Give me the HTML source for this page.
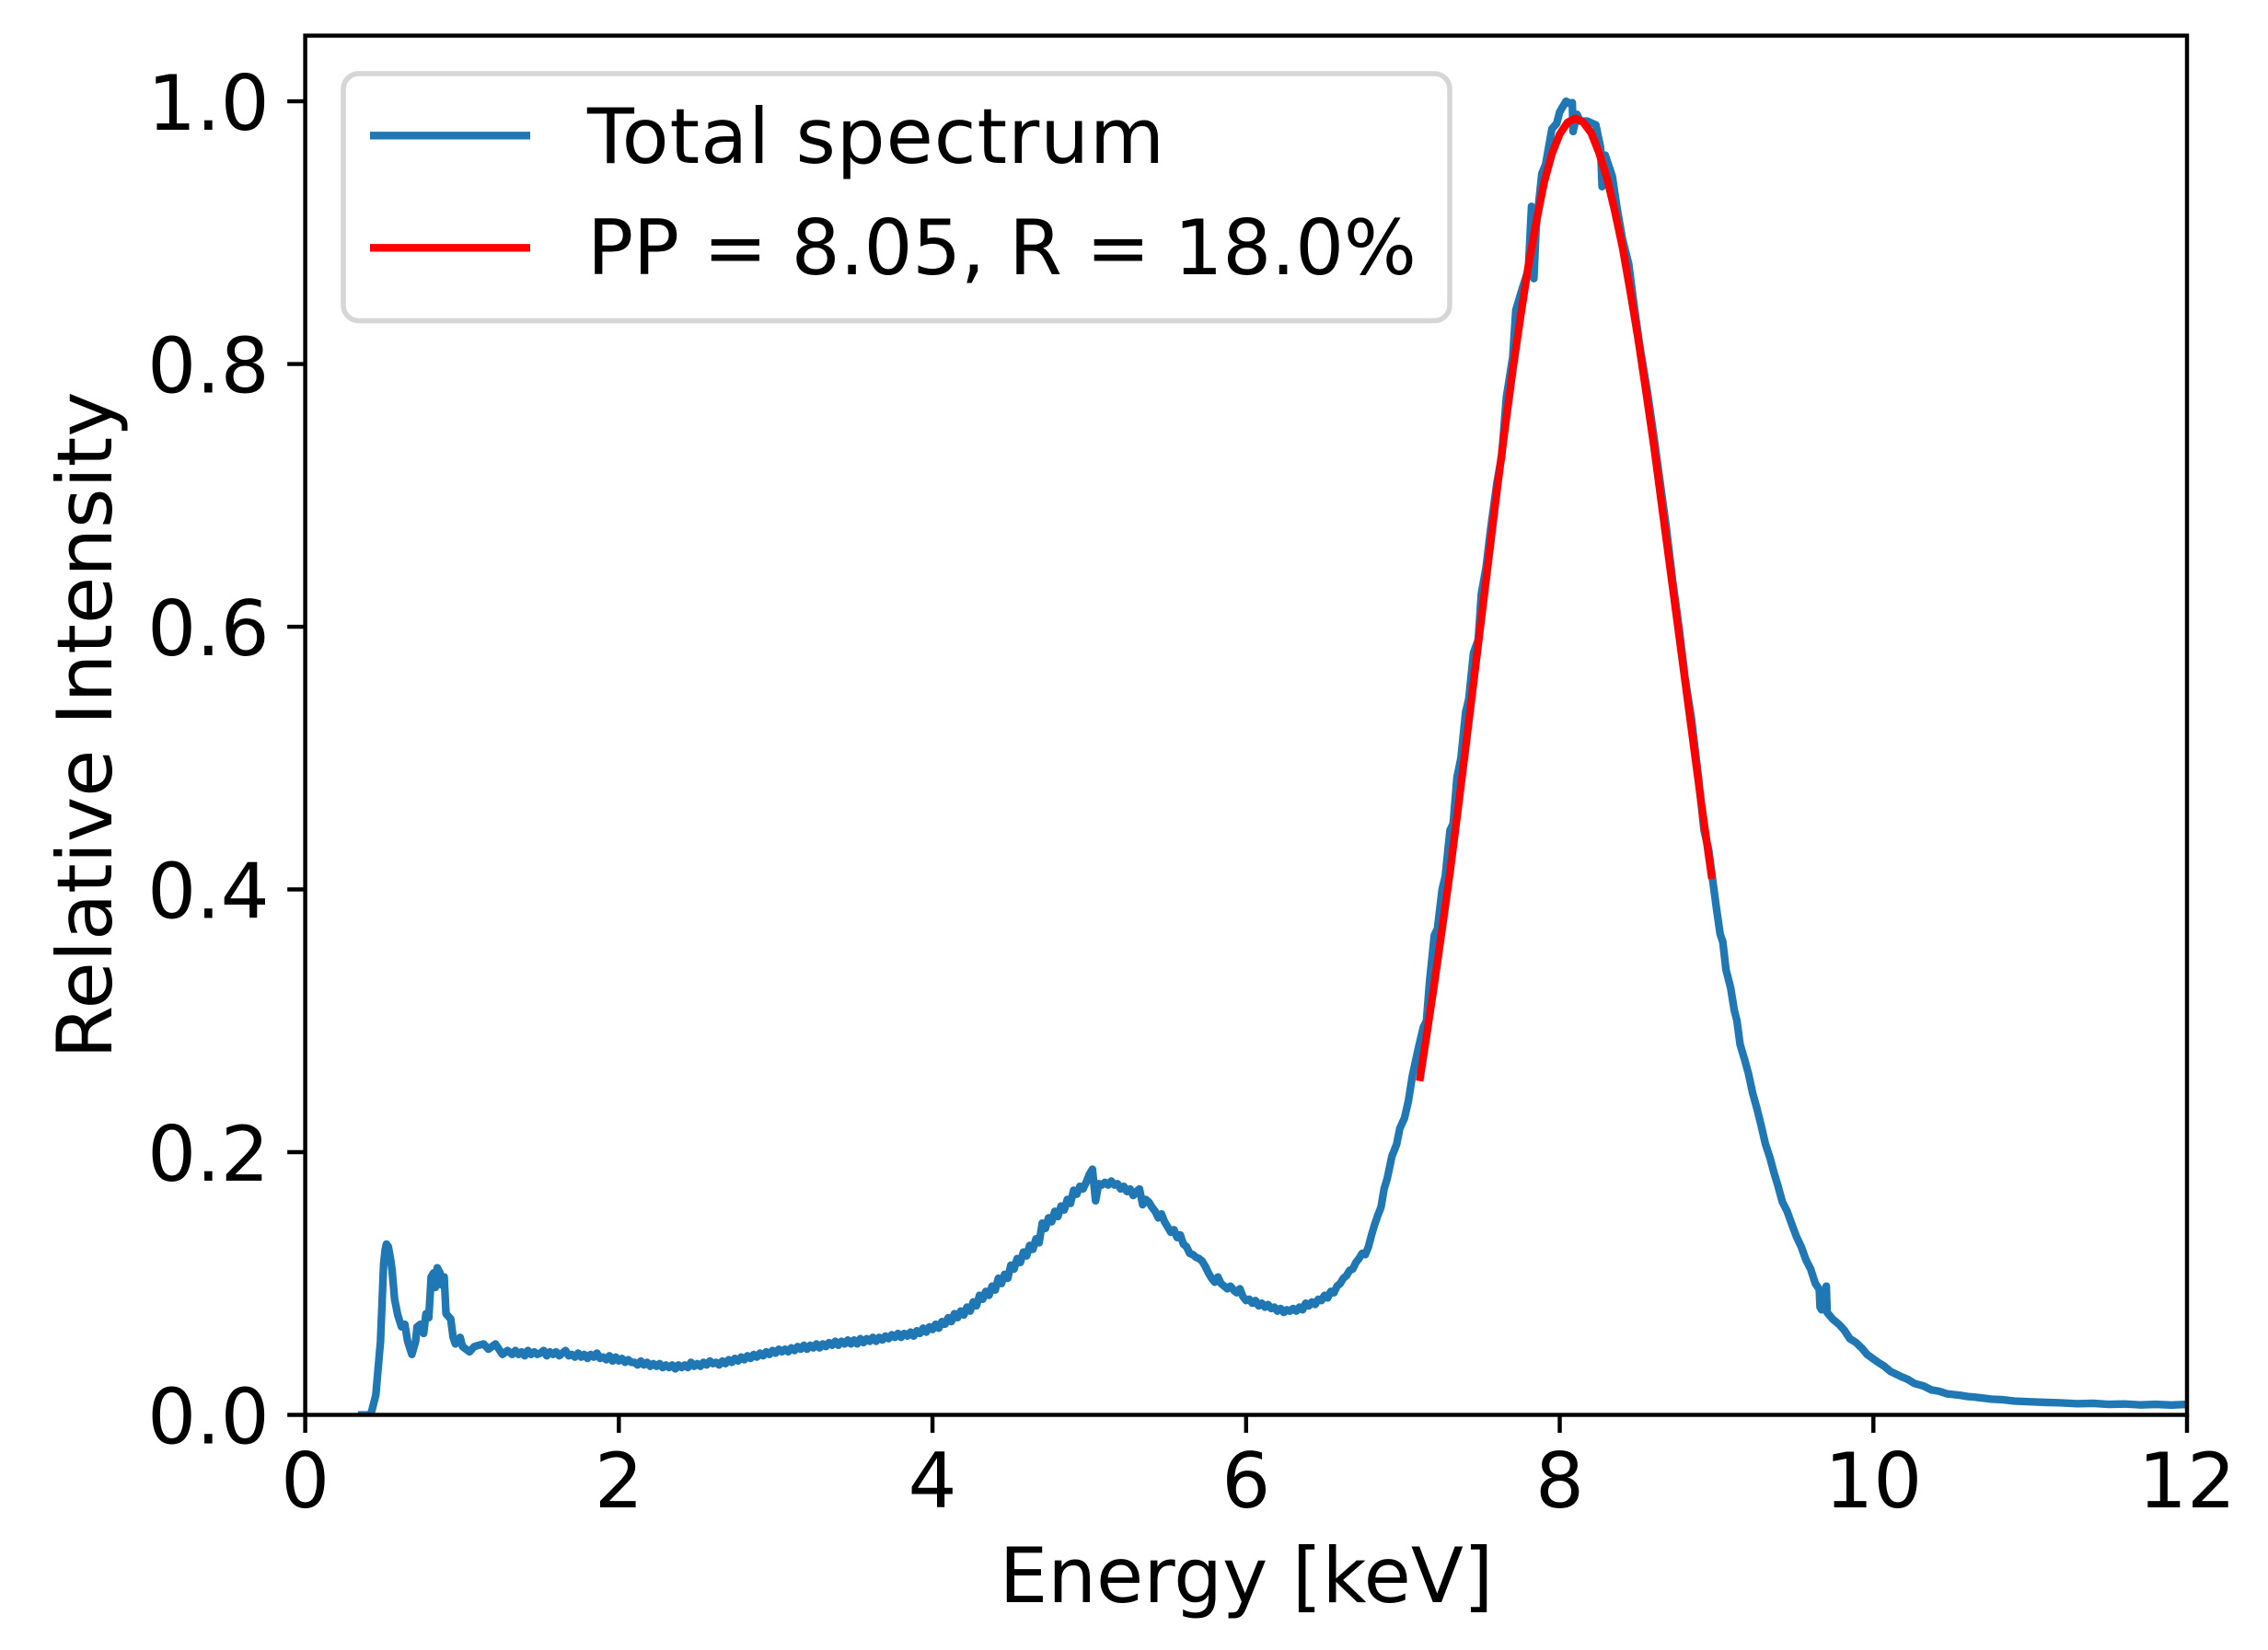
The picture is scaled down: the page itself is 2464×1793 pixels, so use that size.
<!DOCTYPE html>
<html lang="en">
<head>
<meta charset="utf-8">
<title>Total spectrum – Relative Intensity vs Energy</title>
<style>
html,body{margin:0;padding:0;background:#fff;}
svg{display:block;}
text{font-family:"DejaVu Sans","Liberation Sans",sans-serif;font-size:83.33px;fill:#000;}
</style>
</head>
<body>
<svg id="chart" xmlns="http://www.w3.org/2000/svg" width="2464" height="1793" viewBox="0 0 2464 1793">
  <rect x="0" y="0" width="2464" height="1793" fill="#ffffff"/>
  <defs><clipPath id="plot-clip"><rect x="331.6" y="38.7" width="2044.4" height="1498.8"/></clipPath></defs>
  <g id="series-layer" clip-path="url(#plot-clip)"></g>
  <g id="axis-layer"></g>
  <g>
    <rect x="373" y="80" width="1202" height="268.5" rx="16.7" ry="16.7" fill="#ffffff" fill-opacity="0.8" stroke="#d6d6d6" stroke-width="5.55"/>
    <line x1="402" y1="147.3" x2="576" y2="147.3" stroke="#1f77b4" stroke-width="8.33"/>
    <text x="638" y="177" style="letter-spacing:0.9px">Total spectrum</text>
    <line x1="402" y1="269.3" x2="576" y2="269.3" stroke="#ff0000" stroke-width="8.33"/>
    <text x="638" y="298" style="letter-spacing:-0.33px">PP = 8.05, R = 18.0%</text>
  </g>
  <text x="1354" y="1741" text-anchor="middle">Energy [keV]</text>
  <text x="121" y="788" text-anchor="middle" transform="rotate(-90 121 788)">Relative Intensity</text>
</svg>
<script>
const xTickValues = [0, 2, 4, 6, 8, 10, 12];
const xTickLabels = ["0", "2", "4", "6", "8", "10", "12"];
const yTickValues = [0, 0.2, 0.4, 0.6, 0.8, 1.0];
const yTickLabels = ["0.0", "0.2", "0.4", "0.6", "0.8", "1.0"];
const xDomain = [0, 12];
const yDomain = [0, 1.05];

const spectrumEnergy = [
  0.36,0.40,0.42,0.45,0.48,0.50,0.51,0.518,0.53,0.545,0.554,0.57,0.59,
  0.614,0.635,0.653,0.68,0.704,0.713,0.734,0.755,0.77,0.788,
  0.803,0.818,0.83,0.842,0.86,0.869,0.886,0.898,0.928,0.943,
  0.958,0.988,1.003,1.048,1.078,1.138,1.168,1.213,1.258,1.29,
  1.30,1.32,1.34,1.36,1.38,1.40,1.42,1.44,1.46,1.48,
  1.50,1.52,1.54,1.56,1.58,1.60,1.62,1.64,1.66,1.68,
  1.70,1.72,1.74,1.76,1.78,1.80,1.82,1.84,1.86,1.88,
  1.90,1.92,1.94,1.96,1.98,2.00,2.02,2.04,2.06,2.08,
  2.10,2.12,2.14,2.16,2.18,2.20,2.22,2.24,2.26,2.28,
  2.30,2.32,2.34,2.36,2.38,2.40,2.42,2.44,2.46,2.48,
  2.50,2.52,2.54,2.56,2.58,2.60,2.62,2.64,2.66,2.68,
  2.70,2.72,2.74,2.76,2.78,2.80,2.82,2.84,2.86,2.88,
  2.90,2.92,2.94,2.96,2.98,3.00,3.02,3.04,3.06,3.08,
  3.10,3.12,3.14,3.16,3.18,3.20,3.22,3.24,3.26,3.28,
  3.30,3.32,3.34,3.36,3.38,3.40,3.42,3.44,3.46,3.48,
  3.50,3.52,3.54,3.56,3.58,3.60,3.62,3.64,3.66,3.68,
  3.70,3.72,3.74,3.76,3.78,3.80,3.82,3.84,3.86,3.88,
  3.90,3.92,3.94,3.96,3.98,4.00,4.02,4.04,4.06,4.08,
  4.10,4.12,4.14,4.16,4.18,4.20,4.22,4.24,4.26,4.28,
  4.30,4.32,4.34,4.36,4.38,4.40,4.42,4.44,4.46,4.48,
  4.50,4.52,4.54,4.56,4.58,4.60,4.62,4.64,4.66,4.68,
  4.70,4.72,4.74,4.76,4.78,4.80,4.82,4.84,4.86,4.88,
  4.90,4.92,4.94,4.96,4.98,5.00,5.02,5.04,5.06,5.08,
  5.10,5.12,5.14,5.16,5.18,5.20,5.22,5.24,5.26,5.28,
  5.30,5.32,5.34,5.36,5.38,5.40,5.42,5.44,5.46,5.48,
  5.50,5.52,5.54,5.56,5.58,5.60,5.62,5.64,5.66,5.68,
  5.70,5.72,5.74,5.76,5.78,5.80,5.82,5.84,5.86,5.88,
  5.90,5.92,5.94,5.96,5.98,6.00,6.02,6.04,6.06,6.08,
  6.10,6.12,6.14,6.16,6.18,6.20,6.22,6.24,6.26,6.28,
  6.30,6.32,6.34,6.36,6.38,6.40,6.42,6.44,6.46,6.48,
  6.50,6.52,6.54,6.56,6.58,6.60,6.62,6.64,6.66,6.68,
  6.70,6.72,6.74,6.76,6.78,6.80,6.82,6.84,6.86,6.88,
  6.90,
  6.93,6.96,6.98,7.01,7.035,7.06,7.08,7.10,7.13,7.15,
  7.17,7.20,7.22,7.25,7.27,7.30,7.32,7.345,7.37,7.40,
  7.42,7.45,7.48,7.50,7.53,7.56,7.60,7.63,7.66,7.70,
  7.72,7.76,7.80,7.82,7.835,7.85,7.886,7.91,7.95,7.98,
  8.00,8.04,8.07,8.08,8.085,8.11,8.13,8.175,8.23,8.26,
  8.27,8.29,8.335,8.365,8.40,8.44,8.47,8.51,8.56,8.60,
  8.64,8.68,8.72,8.76,8.80,8.84,8.88,8.92,8.95,8.972,
  9.0,9.023,9.04,9.06,9.09,9.113,9.13,9.15,9.18,9.204,
  9.23,9.258,9.285,9.312,9.34,9.367,9.39,9.42,9.45,9.48,
  9.51,9.54,9.57,9.60,9.63,9.655,9.66,9.67,9.70,9.705,
  9.74,9.78,9.815,9.85,9.89,9.925,9.96,10.03,10.07,10.11,
  10.18,10.22,10.26,10.32,10.37,10.42,10.47,10.55,10.6,10.65,
  10.75,10.83,10.9,11.0,11.1,11.19,11.3,11.4,11.5,11.6,
  11.7,11.8,11.9,12.0
];
const spectrumIntensity = [
  0,0,0.001,0.015,0.056,0.115,0.126,0.130,0.128,0.118,0.110,0.088,0.076,
  0.067,0.069,0.056,0.046,0.056,0.067,0.069,0.062,0.077,0.074,
  0.105,0.108,0.097,0.112,0.108,0.099,0.105,0.077,0.073,0.059,
  0.054,0.059,0.052,0.048,0.052,0.054,0.050,0.054,0.046,0.049,
  0.048,0.046,0.049,0.046,0.048,0.045,0.049,0.046,0.048,0.046,
  0.047,0.049,0.045,0.048,0.046,0.048,0.045,0.047,0.049,0.045,
  0.046,0.044,0.047,0.044,0.046,0.043,0.046,0.044,0.047,0.043,
  0.044,0.042,0.045,0.041,0.044,0.041,0.043,0.040,0.042,0.040,
  0.040,0.038,0.041,0.038,0.040,0.037,0.039,0.037,0.039,0.036,
  0.038,0.036,0.038,0.035,0.038,0.036,0.038,0.036,0.040,0.037,
  0.039,0.037,0.040,0.038,0.041,0.039,0.040,0.038,0.041,0.039,
  0.042,0.040,0.043,0.041,0.044,0.042,0.045,0.043,0.046,0.044,
  0.047,0.045,0.048,0.046,0.049,0.047,0.050,0.048,0.050,0.048,
  0.051,0.049,0.052,0.050,0.053,0.050,0.053,0.051,0.054,0.051,
  0.054,0.052,0.055,0.053,0.056,0.053,0.056,0.054,0.057,0.054,
  0.057,0.054,0.058,0.055,0.058,0.056,0.059,0.056,0.059,0.057,
  0.060,0.058,0.061,0.059,0.062,0.059,0.062,0.060,0.063,0.060,
  0.064,0.062,0.066,0.063,0.067,0.065,0.069,0.066,0.071,0.069,
  0.074,0.071,0.077,0.074,0.079,0.076,0.082,0.079,0.086,0.083,
  0.091,0.088,0.094,0.091,0.098,0.095,0.104,0.100,0.107,0.104,
  0.114,0.111,0.119,0.116,0.124,0.121,0.129,0.126,0.134,0.131,
  0.146,0.142,0.150,0.147,0.155,0.151,0.159,0.156,0.164,0.161,
  0.171,0.168,0.174,0.172,0.177,0.183,0.187,0.163,0.176,0.175,
  0.177,0.175,0.178,0.175,0.176,0.172,0.174,0.170,0.172,0.167,
  0.170,0.172,0.160,0.164,0.162,0.158,0.155,0.150,0.153,0.147,
  0.143,0.139,0.141,0.135,0.137,0.130,0.128,0.123,0.122,0.120,
  0.119,0.117,0.113,0.108,0.104,0.101,0.105,0.100,0.098,0.096,
  0.098,0.095,0.093,0.096,0.090,0.087,0.088,0.085,0.087,0.083,
  0.085,0.082,0.084,0.081,0.082,0.079,0.081,0.078,0.080,0.079,
  0.081,0.079,0.082,0.080,0.085,0.083,0.086,0.084,0.088,0.087,
  0.091,0.089,0.094,0.093,0.098,0.100,0.104,0.106,0.110,0.111,
  0.116,0.119,0.123,0.122,0.128,0.137,0.145,0.152,0.158,0.172,
  0.180,
  0.197,0.206,0.218,0.226,0.239,0.258,0.269,0.280,0.295,0.300,
  0.33,0.365,0.37,0.40,0.41,0.445,0.45,0.4855,0.50,0.535,
  0.545,0.58,0.59,0.625,0.645,0.675,0.71,0.73,0.775,0.805,
  0.841,0.857,0.872,0.92,0.865,0.905,0.945,0.952,0.979,0.983,
  0.992,1.0,0.998,0.999,0.977,0.990,0.985,0.985,0.982,0.965,
  0.935,0.959,0.943,0.919,0.895,0.876,0.848,0.814,0.778,0.745,
  0.71,0.675,0.635,0.60,0.56,0.53,0.49,0.445,0.43,0.41,
  0.385,0.366,0.36,0.339,0.325,0.308,0.30,0.282,0.27,0.2595,
  0.245,0.233,0.22,0.206,0.196,0.184,0.175,0.162,0.155,0.145,
  0.1355,0.128,0.118,0.111,0.10,0.0956,0.082,0.08,0.098,0.078,
  0.073,0.069,0.0644,0.058,0.055,0.051,0.046,0.040,0.037,0.033,
  0.029,0.027,0.024,0.022,0.019,0.018,0.016,0.015,0.014,0.0135,
  0.012,0.0115,0.0105,0.0100,0.0095,0.0092,0.0085,0.0088,0.0080,0.0083,
  0.0076,0.0080,0.0075,0.0080
];

const fitEnergy = [7.11,7.15,7.2,7.25,7.3,7.35,7.4,7.45,7.5,7.55,7.6,7.65,7.7,7.75,7.8,7.85,7.9,7.95,8.0,8.05,8.1,8.15,8.2,8.25,8.3,8.35,8.4,8.45,8.5,8.55,8.6,8.65,8.7,8.75,8.8,8.85,8.9,8.967];
const fitIntensity = [0.257,0.288,0.328,0.370,0.413,0.460,0.508,0.557,0.606,0.655,0.704,0.750,0.795,0.836,0.875,0.908,0.938,0.960,0.975,0.984,0.987,0.984,0.976,0.961,0.942,0.917,0.889,0.855,0.819,0.779,0.738,0.693,0.648,0.603,0.558,0.513,0.468,0.411];

const SVG_NS = "http://www.w3.org/2000/svg";
const plotLeft = 331.6, plotRight = 2376, plotTop = 38.7, plotBottom = 1537.5;
const tickLength = 19.44, axisWidth = 4.44;

function xScale(v) {
  return plotLeft + (v - xDomain[0]) / (xDomain[1] - xDomain[0]) * (plotRight - plotLeft);
}
function yScale(v) {
  return plotBottom - (v - yDomain[0]) / (yDomain[1] - yDomain[0]) * (plotBottom - plotTop);
}
function linePoints(xs, ys) {
  const n = Math.min(xs.length, ys.length);
  const pts = [];
  for (let i = 0; i < n; i++) {
    pts.push(xScale(xs[i]).toFixed(2) + "," + yScale(ys[i]).toFixed(2));
  }
  return pts.join(" ");
}
function styleLine(el, x1, y1, x2, y2) {
  el.setAttribute("x1", x1);
  el.setAttribute("y1", y1);
  el.setAttribute("x2", x2);
  el.setAttribute("y2", y2);
  el.setAttribute("stroke", "#000");
  el.setAttribute("stroke-width", axisWidth);
}

const seriesLayer = document.getElementById("series-layer");
const axisLayer = document.getElementById("axis-layer");

const spectrumLine = document.createElementNS(SVG_NS, "polyline");


spectrumLine.setAttribute("points", linePoints(spectrumEnergy, spectrumIntensity));
spectrumLine.setAttribute("fill", "none");
spectrumLine.setAttribute("stroke", "#1f77b4");
spectrumLine.setAttribute("stroke-width", "8.33");
spectrumLine.setAttribute("stroke-linejoin", "round");
spectrumLine.setAttribute("stroke-linecap", "square");
seriesLayer.appendChild(spectrumLine);

const fitLine = document.createElementNS(SVG_NS, "polyline");


fitLine.setAttribute("points", linePoints(fitEnergy, fitIntensity));
fitLine.setAttribute("fill", "none");
fitLine.setAttribute("stroke", "#ff0000");
fitLine.setAttribute("stroke-width", "8.33");
fitLine.setAttribute("stroke-linejoin", "round");
fitLine.setAttribute("stroke-linecap", "square");
seriesLayer.appendChild(fitLine);

const spineFrame = document.createElementNS(SVG_NS, "rect");


spineFrame.setAttribute("x", plotLeft);
spineFrame.setAttribute("y", plotTop);
spineFrame.setAttribute("width", plotRight - plotLeft);
spineFrame.setAttribute("height", plotBottom - plotTop);
spineFrame.setAttribute("fill", "none");
spineFrame.setAttribute("stroke", "#000");
spineFrame.setAttribute("stroke-width", axisWidth);
axisLayer.appendChild(spineFrame);

xTickValues.forEach(function (value, i) {
  const px = xScale(value);
  const tick = document.createElementNS(SVG_NS, "line");
  
  
  styleLine(tick, px, plotBottom, px, plotBottom + tickLength);
  axisLayer.appendChild(tick);
  const label = document.createElementNS(SVG_NS, "text");
  
  
  label.setAttribute("x", px);
  label.setAttribute("y", 1638);
  label.setAttribute("text-anchor", "middle");
  label.textContent = xTickLabels[i];
  axisLayer.appendChild(label);
});

yTickValues.forEach(function (value, i) {
  const py = yScale(value);
  const tick = document.createElementNS(SVG_NS, "line");
  
  
  styleLine(tick, plotLeft - tickLength, py, plotLeft, py);
  axisLayer.appendChild(tick);
  const label = document.createElementNS(SVG_NS, "text");
  
  
  label.setAttribute("x", 292.7);
  label.setAttribute("y", py + 31);
  label.setAttribute("text-anchor", "end");
  label.textContent = yTickLabels[i];
  axisLayer.appendChild(label);
});
</script>
</body>
</html>
